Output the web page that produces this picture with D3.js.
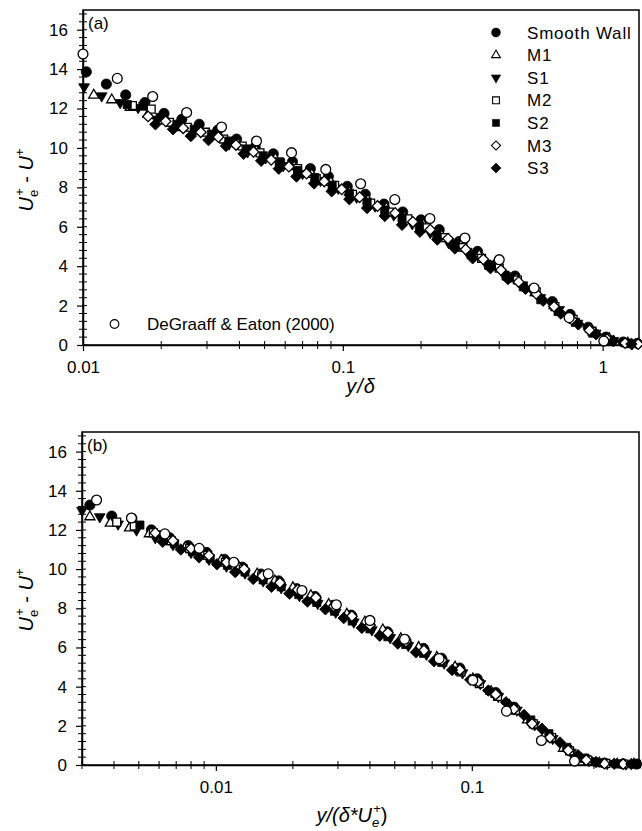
<!DOCTYPE html>
<html>
<head>
<meta charset="utf-8">
<script src="https://cdn.jsdelivr.net/npm/d3@7"></script>
<style>
  body { margin: 0; background: #fff; }
  text { font-family: "Liberation Sans", Arial, sans-serif; fill: #000; }
</style>
</head>
<body>
<svg id="chart" width="642" height="831"></svg>
<script>

// legend names
var seriesNames = ["Smooth Wall", "M1", "S1", "M2", "S2", "M3", "S3"];
var refName = "DeGraaff & Eaton (2000)";

// tick values / labels
var yTicks = [0, 2, 4, 6, 8, 10, 12, 14, 16];
var xTicksA = [0.01, 0.1, 1];
var xTickLabelsA = ["0.01", "0.1", "1"];
var xMinorA = [0.02, 0.03, 0.04, 0.05, 0.06, 0.07, 0.08, 0.09, 0.2, 0.3, 0.4, 0.5, 0.6, 0.7, 0.8, 0.9];
var xTicksB = [0.01, 0.1];
var xTickLabelsB = ["0.01", "0.1"];
var xMinorB = [0.003, 0.004, 0.005, 0.006, 0.007, 0.008, 0.009, 0.02, 0.03, 0.04, 0.05, 0.06, 0.07, 0.08, 0.09, 0.2, 0.3, 0.4];

// ---- panel (a): [y/delta, Ue+ - U+]
var swA = [[0.0103,13.86],[0.0123,13.24],[0.0146,12.69],[0.0173,12.3],[0.0205,11.75],[0.024,11.45],[0.028,11.2],[0.033,10.9],[0.039,10.45],[0.046,10.05],[0.054,9.7],[0.064,9.3],[0.075,8.95],[0.088,8.55],[0.104,8.05],[0.122,7.65],[0.144,7.15],[0.17,6.75],[0.2,6.35],[0.235,5.85],[0.28,5.25],[0.33,4.75],[0.39,4.1],[0.46,3.5],[0.54,2.85],[0.64,2.2],[0.75,1.55],[0.88,0.9],[1.03,0.4],[1.2,0.15],[1.36,0.08]];
var m1A = [[0.011,12.68],[0.0129,12.44],[0.0152,12.05],[0.0178,11.7],[0.021,11.37],[0.0243,11.03],[0.0285,10.85],[0.0335,10.6],[0.0395,10.2],[0.0465,9.85],[0.055,9.45],[0.065,9.05],[0.076,8.65],[0.09,8.25],[0.106,7.75],[0.125,7.35],[0.147,6.95],[0.173,6.5],[0.204,6.1],[0.24,5.55],[0.285,5.05],[0.335,4.55],[0.395,3.95],[0.465,3.35],[0.55,2.65],[0.65,2.0],[0.76,1.4],[0.9,0.8],[1.06,0.32],[1.25,0.1]];
var s1A = [[0.0101,13.1],[0.0118,12.64],[0.0139,12.3],[0.0163,12.05],[0.0192,11.45],[0.0225,11.1],[0.0265,10.8],[0.031,10.55],[0.0365,10.2],[0.043,9.8],[0.0505,9.5],[0.059,9.1],[0.07,8.7],[0.082,8.35],[0.096,7.95],[0.113,7.5],[0.133,7.05],[0.157,6.6],[0.185,6.15],[0.217,5.7],[0.255,5.2],[0.3,4.75],[0.355,4.15],[0.415,3.6],[0.49,3.05],[0.575,2.4],[0.68,1.8],[0.8,1.1],[0.94,0.6],[1.1,0.22],[1.3,0.06]];
var m2A = [[0.0155,12.15],[0.0183,11.97],[0.0215,11.3],[0.0252,11.05],[0.0296,10.8],[0.0348,10.45],[0.041,10.1],[0.048,9.75],[0.057,9.3],[0.067,8.95],[0.079,8.45],[0.093,8.1],[0.109,7.65],[0.128,7.2],[0.151,6.75],[0.178,6.4],[0.21,5.95],[0.247,5.45],[0.29,4.95],[0.342,4.4],[0.4,3.9],[0.47,3.3],[0.555,2.7],[0.655,1.95],[0.77,1.3],[0.91,0.7],[1.07,0.25],[1.26,0.09]];
var s2A = [[0.0148,12.2],[0.017,12.12],[0.0198,11.55],[0.023,11.2],[0.0268,10.95],[0.0312,10.7],[0.0364,10.35],[0.0424,9.95],[0.0494,9.6],[0.0576,9.25],[0.067,8.85],[0.078,8.5],[0.091,8.1],[0.106,7.7],[0.124,7.25],[0.145,6.85],[0.169,6.45],[0.197,6.05],[0.23,5.6],[0.268,5.1],[0.312,4.6],[0.364,4.05],[0.425,3.5],[0.495,2.95],[0.578,2.3],[0.674,1.7],[0.786,1.15],[0.916,0.6],[1.07,0.2],[1.25,0.07]];
var m3A = [[0.0178,11.6],[0.0208,11.35],[0.0243,11.0],[0.0284,10.8],[0.0332,10.55],[0.0388,10.15],[0.0453,9.8],[0.053,9.4],[0.062,9.05],[0.0725,8.7],[0.0848,8.3],[0.099,7.9],[0.116,7.5],[0.136,7.05],[0.159,6.7],[0.186,6.25],[0.217,5.85],[0.254,5.4],[0.297,4.85],[0.347,4.35],[0.406,3.8],[0.475,3.2],[0.555,2.6],[0.65,1.95],[0.76,1.3],[0.89,0.75],[1.04,0.3],[1.22,0.1],[1.37,0.05]];
var s3A = [[0.019,11.2],[0.0222,10.95],[0.026,10.6],[0.0304,10.4],[0.0355,10.1],[0.0415,9.7],[0.0485,9.35],[0.0567,8.95],[0.0663,8.55],[0.0775,8.2],[0.0906,7.8],[0.106,7.4],[0.124,6.95],[0.145,6.55],[0.169,6.1],[0.198,5.75],[0.231,5.35],[0.27,4.9],[0.316,4.4],[0.37,3.9],[0.432,3.35],[0.505,2.85],[0.59,2.25],[0.69,1.6],[0.807,1.05],[0.943,0.55],[1.1,0.2],[1.29,0.05]];
var refA = [[0.01,14.77],[0.01355,13.53],[0.01854,12.61],[0.02505,11.8],[0.03413,11.06],[0.04654,10.35],[0.06346,9.76],[0.08597,8.91],[0.1171,8.18],[0.1585,7.38],[0.2163,6.42],[0.2951,5.43],[0.3999,4.33],[0.5447,2.89],[0.7428,1.39],[1.01,0.2]];

// ---- panel (b): [y/(delta* Ue+), Ue+ - U+]
var swB = [[0.00322,13.27],[0.00392,12.71],[0.0047,12.59],[0.0056,12.0],[0.0066,11.6],[0.0078,11.2],[0.0092,10.85],[0.0108,10.5],[0.0127,10.1],[0.015,9.75],[0.0176,9.4],[0.0207,9.0],[0.0244,8.6],[0.0287,8.15],[0.0338,7.65],[0.0398,7.2],[0.0468,6.8],[0.055,6.4],[0.0648,5.95],[0.0762,5.45],[0.0897,4.95],[0.105,4.4],[0.124,3.7],[0.146,2.95],[0.172,2.15],[0.202,1.45],[0.238,0.8],[0.28,0.3],[0.33,0.1],[0.39,0.06],[0.44,0.05]];
var m1B = [[0.00322,12.67],[0.00387,12.34],[0.0046,12.1],[0.0055,11.8],[0.0065,11.4],[0.0076,11.1],[0.0089,10.8],[0.0105,10.45],[0.0123,10.1],[0.0145,9.75],[0.017,9.4],[0.02,9.05],[0.0235,8.65],[0.0276,8.2],[0.0325,7.7],[0.0382,7.3],[0.0449,6.9],[0.0528,6.45],[0.062,6.0],[0.073,5.5],[0.086,5.0],[0.101,4.4],[0.119,3.75],[0.14,3.05],[0.165,2.3],[0.194,1.55],[0.228,0.85],[0.268,0.3],[0.315,0.1],[0.37,0.05],[0.43,0.05]];
var s1B = [[0.003,13.0],[0.00352,12.67],[0.00415,12.3],[0.0049,12.0],[0.0058,11.6],[0.0068,11.25],[0.008,10.85],[0.0094,10.5],[0.011,10.15],[0.013,9.8],[0.0153,9.4],[0.018,9.05],[0.0212,8.65],[0.025,8.25],[0.0294,7.8],[0.0346,7.3],[0.0407,6.9],[0.048,6.5],[0.0565,6.1],[0.0665,5.65],[0.078,5.2],[0.092,4.7],[0.108,4.15],[0.127,3.5],[0.15,2.8],[0.176,2.05],[0.207,1.35],[0.244,0.65],[0.287,0.22],[0.338,0.07],[0.4,0.05]];
var m2B = [[0.0041,12.4],[0.0048,12.2],[0.0057,11.85],[0.0067,11.45],[0.0079,11.05],[0.0093,10.7],[0.0109,10.35],[0.0128,10.0],[0.0151,9.65],[0.0178,9.25],[0.021,8.85],[0.0247,8.45],[0.029,8.0],[0.0342,7.5],[0.0402,7.1],[0.0473,6.65],[0.0557,6.2],[0.0655,5.75],[0.077,5.25],[0.0907,4.75],[0.107,4.15],[0.126,3.5],[0.148,2.8],[0.174,2.1],[0.205,1.4],[0.241,0.72],[0.284,0.25],[0.334,0.08],[0.393,0.05]];
var s2B = [[0.00505,12.25],[0.0059,11.75],[0.0069,11.3],[0.0081,10.9],[0.0095,10.55],[0.0111,10.2],[0.013,9.85],[0.0153,9.45],[0.018,9.1],[0.0211,8.7],[0.0248,8.3],[0.0291,7.85],[0.0341,7.35],[0.04,6.95],[0.047,6.55],[0.0552,6.15],[0.0648,5.7],[0.0761,5.25],[0.0893,4.8],[0.105,4.25],[0.123,3.65],[0.145,2.95],[0.17,2.3],[0.2,1.6],[0.235,0.9],[0.276,0.35],[0.324,0.1],[0.38,0.05],[0.44,0.05]];
var m3B = [[0.0058,11.85],[0.0068,11.45],[0.008,11.05],[0.0094,10.7],[0.011,10.35],[0.0129,10.0],[0.0152,9.65],[0.0178,9.3],[0.0209,8.95],[0.0246,8.55],[0.0289,8.1],[0.034,7.6],[0.04,7.15],[0.047,6.75],[0.0553,6.3],[0.065,5.85],[0.0764,5.35],[0.0898,4.85],[0.106,4.25],[0.124,3.6],[0.146,2.85],[0.172,2.1],[0.202,1.4],[0.238,0.75],[0.28,0.25],[0.33,0.07],[0.39,0.05]];
var s3B = [[0.0062,11.4],[0.0073,11.0],[0.0086,10.6],[0.0101,10.25],[0.0119,9.85],[0.014,9.5],[0.0165,9.1],[0.0194,8.75],[0.0228,8.35],[0.0268,7.95],[0.0316,7.5],[0.0372,7.0],[0.0437,6.6],[0.0514,6.2],[0.0605,5.75],[0.0712,5.3],[0.0838,4.85],[0.0986,4.35],[0.116,3.8],[0.136,3.2],[0.16,2.55],[0.188,1.85],[0.221,1.15],[0.26,0.5],[0.306,0.15],[0.36,0.06],[0.42,0.05]];
var refB = [[0.00342,13.53],[0.00468,12.61],[0.00632,11.8],[0.00861,11.06],[0.01175,10.35],[0.01602,9.76],[0.0217,8.91],[0.02956,8.18],[0.04,7.38],[0.0546,6.42],[0.0745,5.43],[0.1009,4.33],[0.1366,2.75],[0.187,1.25],[0.252,0.2]];

// marker styles, same order as seriesNames
var shapes = [
  {sym: d3.symbolCircle,   size: 82, filled: true,  rot: 0},
  {sym: d3.symbolTriangle, size: 44, filled: false, rot: 0},
  {sym: d3.symbolTriangle, size: 50, filled: true,  rot: 180},
  {sym: d3.symbolSquare,   size: 62, filled: false, rot: 0},
  {sym: d3.symbolSquare,   size: 66, filled: true,  rot: 0},
  {sym: d3.symbolSquare,   size: 56, filled: false, rot: 45},
  {sym: d3.symbolSquare,   size: 66, filled: true,  rot: 45}
];
var refShape = {sym: d3.symbolCircle, size: 76, filled: false, rot: 0};

var svg = d3.select("#chart");

function addMarks(g, data, sh, x, y) {
  var path = d3.symbol().type(sh.sym).size(sh.size);
  g.selectAll(null)
    .data(data)
    .enter()
    .append("path")
    .attr("d", path)
    .attr("transform", function(d) { return "translate(" + x(d[0]) + "," + y(d[1]) + ") rotate(" + sh.rot + ")"; })
    .attr("fill", sh.filled ? "#000" : "#fff")
    .attr("stroke", "#000")
    .attr("stroke-width", sh.filled ? 0.8 : 1.3);
}

function drawPanel(p) {
  var x = d3.scaleLog().domain(p.xDomain).range([p.left, p.right]);
  var y = d3.scaleLinear().domain([0, 17]).range([p.bottom, p.top]);
  var g = svg.append("g");

  // frame
  g.append("rect")
    .attr("x", p.left).attr("y", p.top)
    .attr("width", p.right - p.left).attr("height", p.bottom - p.top)
    .attr("fill", "none").attr("stroke", "#000").attr("stroke-width", 1.5);

  // y axis, major ticks
  var ya = g.append("g")
    .attr("transform", "translate(" + p.left + ",0)")
    .call(d3.axisLeft(y).tickValues(yTicks).tickSizeInner(6).tickSizeOuter(0).tickPadding(9));
  // minor y ticks every 0.4, crossing the axis
  var yMinor = d3.range(1, 43).map(function(i) { return +(i * 0.4).toFixed(1); })
    .filter(function(v) { return v % 2 !== 0; });
  g.selectAll(null).data(yMinor).enter().append("line")
    .attr("x1", p.left - 4).attr("x2", p.left + 4)
    .attr("y1", function(d) { return y(d); }).attr("y2", function(d) { return y(d); })
    .attr("stroke", "#000").attr("stroke-width", 1);
  g.selectAll(null).data(yTicks).enter().append("line")
    .attr("x1", p.left).attr("x2", p.left + 4)
    .attr("y1", function(d) { return y(d); }).attr("y2", function(d) { return y(d); })
    .attr("stroke", "#000").attr("stroke-width", 1);

  // x axis
  var xa = g.append("g")
    .attr("transform", "translate(0," + p.bottom + ")")
    .call(d3.axisBottom(x).tickValues(p.xTicks).tickFormat(function(d, i) { return p.xLabels[i]; })
      .tickSizeInner(6).tickSizeOuter(0).tickPadding(10));
  g.selectAll(null).data(p.xMinor).enter().append("line")
    .attr("x1", function(d) { return x(d); }).attr("x2", function(d) { return x(d); })
    .attr("y1", p.bottom - 4).attr("y2", p.bottom + 4)
    .attr("stroke", "#000").attr("stroke-width", 1);

  [ya, xa].forEach(function(a) {
    a.select(".domain").attr("stroke-width", 1.5);
    a.selectAll(".tick line").attr("stroke-width", 1.2);
    a.selectAll("text").style("font-size", "17px").style("font-family", "Liberation Sans, Arial, sans-serif");
  });

  // data: series then reference circles on top
  p.series.forEach(function(s, i) { addMarks(g, s, shapes[i], x, y); });
  addMarks(g, p.ref, refShape, x, y);

  // panel tag
  g.append("text").attr("x", p.left + 5).attr("y", p.top + 19)
    .style("font-size", "17px").text(p.tag);

  return {x: x, y: y, g: g};
}

function yTitle(cx, cy) {
  var t = svg.append("text")
    .attr("transform", "translate(" + cx + "," + cy + ") rotate(-90)")
    .attr("text-anchor", "middle")
    .style("font-size", "20px");
  t.append("tspan").style("font-style", "italic").text("U");
  t.append("tspan").attr("dy", 5).style("font-size", "13px").text("e");
  t.append("tspan").attr("dx", -6).attr("dy", -14).style("font-size", "13px").text("+");
  t.append("tspan").attr("dy", 9).text(" - ");
  t.append("tspan").style("font-style", "italic").text("U");
  t.append("tspan").attr("dy", -9).style("font-size", "13px").text("+");
}

var pa = drawPanel({
  left: 83, right: 639, top: 10, bottom: 345,
  xDomain: [0.01, 1.38], xTicks: xTicksA, xLabels: xTickLabelsA, xMinor: xMinorA,
  series: [swA, m1A, s1A, m2A, s2A, m3A, s3A], ref: refA, tag: "(a)"
});

var pb = drawPanel({
  left: 82, right: 639, top: 432, bottom: 765,
  xDomain: [0.003, 0.45], xTicks: xTicksB, xLabels: xTickLabelsB, xMinor: xMinorB,
  series: [swB, m1B, s1B, m2B, s2B, m3B, s3B], ref: refB, tag: "(b)"
});

// legend (panel a)
var leg = svg.append("g");
seriesNames.forEach(function(name, i) {
  var ly = 32.5 + i * 22.6;
  var path = d3.symbol().type(shapes[i].sym).size(shapes[i].size * 0.75);
  leg.append("path").attr("d", path)
    .attr("transform", "translate(496," + ly + ") rotate(" + shapes[i].rot + ")")
    .attr("fill", shapes[i].filled ? "#000" : "#fff")
    .attr("stroke", "#000").attr("stroke-width", shapes[i].filled ? 0.6 : 1.1);
  leg.append("text").attr("x", 527).attr("y", ly + 6)
    .style("font-size", "17px").style("letter-spacing", "0.8px").text(name);
});
leg.append("path").attr("d", d3.symbol().type(d3.symbolCircle).size(60))
  .attr("transform", "translate(114.5,324)")
  .attr("fill", "#fff").attr("stroke", "#000").attr("stroke-width", 1.1);
leg.append("text").attr("x", 147).attr("y", 330)
  .style("font-size", "17px").text(refName);

// axis titles
yTitle(33, 180);
yTitle(33, 600);

svg.append("text").attr("x", 361).attr("y", 393)
  .attr("text-anchor", "middle").style("font-size", "20px").style("font-style", "italic")
  .style("letter-spacing", "1px").text("y/δ");

var xb = svg.append("text").attr("x", 352).attr("y", 822)
  .attr("text-anchor", "middle").style("font-size", "20px");
xb.append("tspan").style("font-style", "italic").text("y/(δ*U");
xb.append("tspan").attr("dy", 5).style("font-size", "13px").style("font-style", "italic").text("e");
xb.append("tspan").attr("dx", -6).attr("dy", -14).style("font-size", "13px").text("+");
xb.append("tspan").attr("dy", 9).text(")");

</script>
</body>
</html>
